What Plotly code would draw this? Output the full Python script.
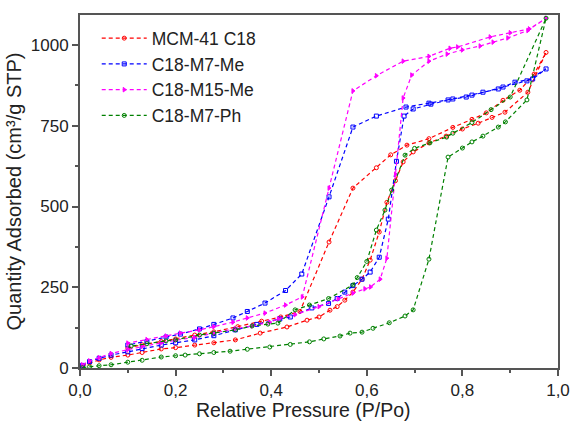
import plotly.graph_objects as go

# ---- data (adsorption branch followed by desorption branch) ----
mcm_x = [0.005,0.02,0.04,0.065,0.1,0.13,0.17,0.2,0.24,0.28,0.325,0.377,0.433,0.475,0.5,0.523,0.538,0.554,0.571,0.59,0.607,0.626,0.642,0.66,0.676,0.697,0.73,0.766,0.8,0.833,0.862,0.889,0.937,0.975,
         0.95,0.92,0.885,0.85,0.82,0.78,0.73,0.684,0.65,0.62,0.571,0.521,0.46,0.42,0.38,0.33,0.28,0.24,0.2,0.17,0.13,0.1]
mcm_y = [5,15,25,33,40,48,59,63,71,78,87,108,127,148,158,179,190,210,235,275,334,421,513,580,638,669,697,718,740,758,776,792,854,977,
         910,860,829,790,770,745,710,690,660,620,557,390,175,158,145,128,112,102,90,82,72,62]

m7me_x = [0.005,0.02,0.04,0.065,0.1,0.13,0.17,0.2,0.24,0.28,0.325,0.37,0.418,0.44,0.485,0.52,0.538,0.554,0.571,0.59,0.607,0.626,0.645,0.662,0.678,0.697,0.734,0.77,0.808,0.843,0.885,0.935,0.975,
          0.947,0.91,0.875,0.82,0.78,0.73,0.682,0.62,0.571,0.521,0.464,0.43,0.387,0.35,0.32,0.28,0.25,0.21,0.18,0.14,0.1]
m7me_y = [8,20,30,40,50,60,71,78,87,100,118,135,152,158,186,200,215,235,255,275,297,343,461,640,780,802,817,830,839,854,870,889,926,
          895,885,864,845,833,820,808,780,746,530,291,240,201,175,155,135,121,105,96,82,71]

m15me_x = [0.005,0.02,0.04,0.065,0.1,0.13,0.17,0.2,0.24,0.28,0.325,0.36,0.397,0.415,0.45,0.5,0.54,0.571,0.596,0.608,0.628,0.642,0.66,0.676,0.694,0.73,0.768,0.8,0.837,0.864,0.895,0.937,0.975,
           0.94,0.9,0.858,0.79,0.774,0.73,0.676,0.62,0.571,0.521,0.465,0.43,0.387,0.35,0.32,0.28,0.25,0.21,0.18,0.14,0.1]
m15me_y = [10,22,32,45,57,67,78,86,95,108,122,130,142,152,165,190,214,232,245,251,275,340,600,836,907,950,972,985,997,1009,1022,1045,1083,
           1050,1038,1025,994,990,965,950,905,858,557,220,195,170,155,142,128,118,108,99,88,77]

m7ph_x = [0.005,0.02,0.04,0.065,0.1,0.13,0.17,0.2,0.22,0.25,0.28,0.314,0.35,0.397,0.44,0.48,0.51,0.544,0.565,0.59,0.613,0.647,0.68,0.697,0.73,0.77,0.8,0.82,0.843,0.875,0.89,0.935,0.975,
          0.9,0.86,0.82,0.78,0.767,0.732,0.7,0.68,0.652,0.638,0.62,0.6,0.58,0.571,0.52,0.48,0.45,0.414,0.393,0.36,0.325,0.28,0.25,0.2,0.18,0.14,0.107]
m7ph_y = [1,4,7,10,18,24,34,38,40,44,48,52,58,65,73,81,90,99,108,111,123,140,161,180,337,653,681,700,718,746,762,830,1083,
          839,800,760,727,715,697,680,659,551,489,427,330,280,257,215,195,180,139,136,130,118,108,102,87,84,75,68]

series = [
    ("MCM-41 C18", mcm_x, mcm_y, "#FF0000", "circle-open"),
    ("C18-M7-Me", m7me_x, m7me_y, "#0000FF", "square-open"),
    ("C18-M15-Me", m15me_x, m15me_y, "#FF00FF", "triangle-right"),
    ("C18-M7-Ph", m7ph_x, m7ph_y, "#008000", "circle-open"),
]

x_ticks = [0.0, 0.2, 0.4, 0.6, 0.8, 1.0]
x_ticktext = ["0,0", "0,2", "0,4", "0,6", "0,8", "1,0"]
y_ticks = [0, 250, 500, 750, 1000]
y_ticktext = ["0", "250", "500", "750", "1000"]

fig = go.Figure()
for name, xs, ys, col, sym in series:
    fig.add_trace(go.Scatter(
        x=xs, y=ys, name=name, mode="lines+markers",
        line=dict(color=col, width=1.2, dash="4px,3px"),
        marker=dict(symbol=sym, size=4, color=col, line=dict(color=col, width=1)),
    ))

font_family = "Arial, Liberation Sans, sans-serif"
fig.update_layout(
    width=574, height=427,
    margin=dict(l=80, r=16, t=15, b=59, autoexpand=False),
    paper_bgcolor="white", plot_bgcolor="white",
    font=dict(family=font_family, size=17, color="#222"),
    showlegend=True,
    legend=dict(x=0.035, y=0.985, xanchor="left", yanchor="top",
                bgcolor="rgba(0,0,0,0)", font=dict(size=17.5, color="#222"),
                itemwidth=45, tracegroupgap=0),
    xaxis=dict(range=[0, 1], tickvals=x_ticks, ticktext=x_ticktext, automargin=False,
               showgrid=False, zeroline=False, showline=True, mirror=True,
               linecolor="#555", linewidth=2, ticks="outside", ticklen=6,
               tickwidth=1.5, tickcolor="#555",
               minor=dict(dtick=0.1, ticks="outside", ticklen=3, tickcolor="#555", tickwidth=1.5),
               tickfont=dict(size=17)),
    yaxis=dict(range=[0, 1093], tickvals=y_ticks, ticktext=y_ticktext, automargin=False,
               showgrid=False, zeroline=False, showline=True, mirror=True,
               linecolor="#555", linewidth=2, ticks="outside", ticklen=6,
               tickwidth=1.5, tickcolor="#555",
               minor=dict(tickvals=[125, 375, 625, 875], ticks="outside", ticklen=3, tickcolor="#555", tickwidth=1.5),
               title=dict(text="Quantity Adsorbed (cm³/g STP)", font=dict(size=20), standoff=4),
               tickfont=dict(size=17)),
    annotations=[dict(text="Relative Pressure (P/Po)", xref="paper", yref="paper",
                      x=0.468, y=-0.118, xanchor="center", yanchor="middle",
                      showarrow=False, font=dict(size=19.5, color="#222"))],
)

fig.write_html("out.html", config={"displayModeBar": False},
               post_script="document.body.style.margin='0';")
